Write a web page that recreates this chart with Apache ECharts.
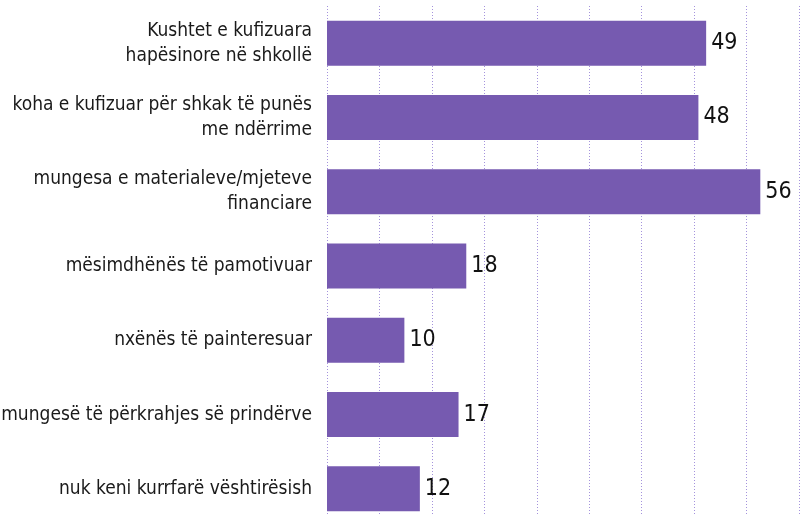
<!DOCTYPE html>
<html>
<head>
<meta charset="utf-8">
<script src="https://cdn.jsdelivr.net/npm/echarts@6/dist/echarts.min.js"></script>
<style>
  html, body { margin: 0; padding: 0; background: #fff; }
  #chart { width: 800px; height: 515px; }
</style>
</head>
<body>
<div id="chart"></div>
<script>
const categories = [
  'Kushtet e kufizuara\nhapësinore në shkollë',
  'koha e kufizuar për shkak të punës\nme ndërrime',
  'mungesa e materialeve/mjeteve\nfinanciare',
  'mësimdhënës të pamotivuar',
  'nxënës të painteresuar',
  'mungesë të përkrahjes së prindërve',
  'nuk keni kurrfarë vështirësish'
];
const values = [49, 48, 56, 18, 10, 17, 12];

const font = '"DejaVu Sans Condensed", "DejaVu Sans", sans-serif';
const myChart = echarts.init(document.getElementById('chart'));

const option = {
  animation: false,
  grid: {
    left: 327,
    right: 1,
    top: 6,
    height: 520,
    outerBoundsMode: 'none'
  },
  xAxis: {
    type: 'value',
    min: 0,
    max: 61,
    interval: 61 / 9,
    axisLine: { show: false },
    axisTick: { show: false },
    axisLabel: { show: false },
    splitLine: {
      show: true,
      lineStyle: { color: '#a493dc', type: [1, 2], width: 1 }
    }
  },
  yAxis: {
    type: 'category',
    data: categories,
    inverse: true,
    axisLine: { show: false },
    axisTick: { show: false },
    axisLabel: {
      margin: 15,
      fontFamily: font,
      fontSize: 19,
      lineHeight: 25,
      color: '#1a1a1a',
      align: 'right'
    }
  },
  series: [
    {
      type: 'bar',
      data: values,
      barWidth: 45,
      itemStyle: { color: '#765ab0' },
      label: {
        show: true,
        position: 'right',
        distance: 5,
        fontFamily: font,
        fontSize: 23,
        color: '#111'
      }
    }
  ]
};

myChart.setOption(option);
</script>
</body>
</html>
